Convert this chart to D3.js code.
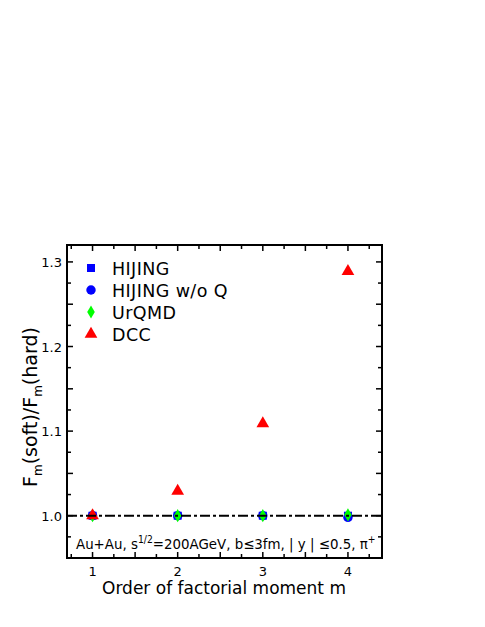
<!DOCTYPE html>
<html>
<head>
<meta charset="utf-8">
<script src="https://cdn.jsdelivr.net/npm/d3@7"></script>
<style>
  body { margin: 0; background: #fff; }
  svg text { font-family: "DejaVu Sans", sans-serif; fill: #000; }
</style>
</head>
<body>
<div id="chart"></div>
<script>
// DATA
var orders = [1, 2, 3, 4]
  , hijing = [1.000, 1.000, 1.000, 1.000]
  , hijingNoQ = [1.000, 1.000, 1.000, 0.998]
  , urqmd = [1.000, 1.000, 1.000, 1.001]
  , dcc = [1.000, 1.029, 1.109, 1.289]
  , seriesNames = ["HIJING", "HIJING w/o Q", "UrQMD", "DCC"]
  , xTickLabels = [1, 2, 3, 4]
  , yTickLabels = [1.0, 1.1, 1.2, 1.3];

(function() {
  var w = 485
    , h = 627
    , pLeft = 67, pRight = 382, pTop = 245, pBottom = 558
    , svg, x, y, series, legend, yt, ann, annLen;

  svg = d3.select("#chart").append("svg")
    .attr("width", w)
    .attr("height", h);

  x = d3.scaleLinear().domain([0.7, 4.4]).range([pLeft, pRight]);
  y = d3.scaleLinear().domain([0.95, 1.32]).range([pBottom, pTop]);

  // ticks, pointing inward on all four sides
  var xMinor = d3.range(0.75, 4.4, 0.25)
    , yMinor = d3.range(0.975, 1.32, 0.025);

  function isMajor(v, step) {
    return Math.abs(v / step - Math.round(v / step)) < 1e-6;
  }

  xMinor.forEach(function(v) {
    var len = isMajor(v, 0.5) ? 6 : 4;
    svg.append("line").attr("x1", x(v)).attr("x2", x(v))
      .attr("y1", pBottom).attr("y2", pBottom - len)
      .attr("stroke", "#000").attr("stroke-width", 1.5);
    svg.append("line").attr("x1", x(v)).attr("x2", x(v))
      .attr("y1", pTop).attr("y2", pTop + len)
      .attr("stroke", "#000").attr("stroke-width", 1.5);
  });

  yMinor.forEach(function(v) {
    var len = isMajor(v, 0.05) ? 6 : 4;
    svg.append("line").attr("y1", y(v)).attr("y2", y(v))
      .attr("x1", pLeft).attr("x2", pLeft + len)
      .attr("stroke", "#000").attr("stroke-width", 1.5);
    svg.append("line").attr("y1", y(v)).attr("y2", y(v))
      .attr("x1", pRight).attr("x2", pRight - len)
      .attr("stroke", "#000").attr("stroke-width", 1.5);
  });

  // tick labels
  svg.selectAll("text.xlab")
    .data(xTickLabels)
    .enter().append("text")
    .attr("class", "xlab")
    .attr("x", function(d) { return x(d); })
    .attr("y", pBottom + 18)
    .attr("text-anchor", "middle")
    .attr("font-size", 13)
    .text(function(d) { return d; });

  svg.selectAll("text.ylab")
    .data(yTickLabels)
    .enter().append("text")
    .attr("class", "ylab")
    .attr("x", pLeft - 5)
    .attr("y", function(d) { return y(d) + 5; })
    .attr("text-anchor", "end")
    .attr("font-size", 13)
    .text(function(d) { return d.toFixed(1); });

  // axis titles
  svg.append("text")
    .attr("x", 224)
    .attr("y", 594)
    .attr("text-anchor", "middle")
    .attr("font-size", 17)
    .text("Order of factorial moment m");

  yt = svg.append("text")
    .attr("transform", "translate(37,407) rotate(-90)")
    .attr("text-anchor", "middle")
    .attr("font-size", 19);
  yt.append("tspan").text("F");
  yt.append("tspan").attr("font-size", 12).attr("dy", 5).text("m");
  yt.append("tspan").attr("dy", -5).text("(soft)/F");
  yt.append("tspan").attr("font-size", 12).attr("dy", 5).text("m");
  yt.append("tspan").attr("dy", -5).text("(hard)");

  // annotation, squeezed to the width it has in the figure
  ann = svg.append("text")
    .attr("x", 76)
    .attr("y", 549)
    .attr("font-size", 14.5);
  ann.append("tspan").text("Au+Au, s");
  ann.append("tspan").attr("font-size", 10).attr("dy", -6).text("1/2");
  ann.append("tspan").attr("dy", 6).text("=200AGeV, b\u22643fm,  | y | \u22640.5, \u03c0");
  ann.append("tspan").attr("font-size", 10).attr("dy", -6).text("+");
  annLen = ann.node().getComputedTextLength();
  if (annLen > 300) {
    ann.attr("transform", "translate(76,0) scale(" + (300 / annLen) + ",1) translate(-76,0)");
  }

  // markers
  series = [
    { name: seriesNames[0], values: hijing, symbol: d3.symbolSquare, size: 64, color: "#0000ff" },
    { name: seriesNames[1], values: hijingNoQ, symbol: d3.symbolCircle, size: 70, color: "#0000ff" },
    { name: seriesNames[2], values: urqmd, symbol: d3.symbolDiamond, size: 50, color: "#00ff00" },
    { name: seriesNames[3], values: dcc, symbol: d3.symbolTriangle, size: 70, color: "#ff0000" }
  ];

  series.forEach(function(s) {
    svg.selectAll(null)
      .data(s.values)
      .enter().append("path")
      .attr("d", d3.symbol().type(s.symbol).size(s.size))
      .attr("transform", function(d, i) {
        return "translate(" + x(orders[i]) + "," + y(d) + ")";
      })
      .attr("fill", s.color);
  });

  // reference line at 1
  svg.append("line")
    .attr("x1", pLeft).attr("x2", pRight)
    .attr("y1", y(1)).attr("y2", y(1))
    .attr("stroke", "#000")
    .attr("stroke-width", 2)
    .attr("stroke-dasharray", "10,3,3,3");

  // legend
  legend = svg.selectAll("g.legend")
    .data(series)
    .enter().append("g")
    .attr("class", "legend")
    .attr("transform", function(d, i) { return "translate(91," + (268 + i * 22) + ")"; });

  legend.append("path")
    .attr("d", function(d) { return d3.symbol().type(d.symbol).size(d.size)(); })
    .attr("fill", function(d) { return d.color; });

  legend.append("text")
    .attr("x", 21)
    .attr("y", 6.5)
    .attr("font-size", 17.5)
    .attr("letter-spacing", 0.4)
    .text(function(d) { return d.name; });

  // frame
  svg.append("rect")
    .attr("x", pLeft).attr("y", pTop)
    .attr("width", pRight - pLeft).attr("height", pBottom - pTop)
    .attr("fill", "none")
    .attr("stroke", "#000")
    .attr("stroke-width", 2);
}());
</script>
</body>
</html>
